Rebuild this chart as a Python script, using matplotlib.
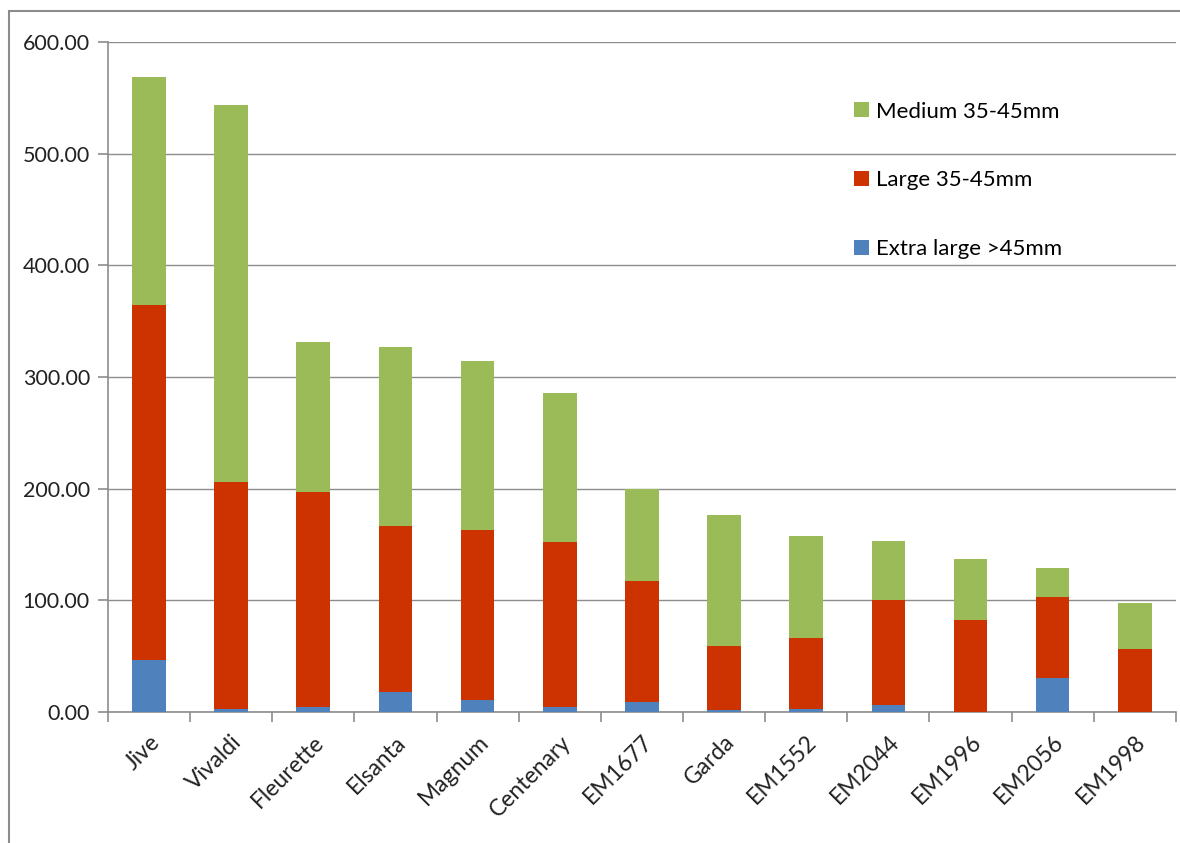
import numpy as np
import matplotlib
matplotlib.use("Agg")
import matplotlib.pyplot as plt
from matplotlib.patches import Rectangle

plt.rcParams['font.family'] = ['Lato', 'DejaVu Sans']

varieties = ['Jive', 'Vivaldi', 'Fleurette', 'Elsanta', 'Magnum', 'Centenary',
             'EM1677', 'Garda', 'EM1552', 'EM2044', 'EM1996', 'EM2056', 'EM1998']
extra_large = [47.0, 2.4, 4.5, 18.0, 10.5, 4.5, 9.3, 1.5, 2.4, 6.0, 0.3, 30.5, 0.3]
large = [317.5, 203.6, 192.5, 148.6, 152.5, 147.5, 107.7, 57.5, 63.6, 94.0, 81.7, 72.5, 55.7]
medium = [204.0, 337.6, 134.0, 160.4, 151.0, 134.0, 83.0, 117.0, 92.0, 53.0, 55.0, 26.0, 42.0]

c_blue = '#4F81BD'
c_red = '#CC3300'
c_green = '#9BBB59'
grey = '#8C8C8C'

fig = plt.figure(figsize=(11.8, 8.43), dpi=100)
# outer chart frame
fig.patches.append(Rectangle((0.008, -0.1), 1.1, 1.087, transform=fig.transFigure,
                             fill=False, edgecolor=grey, linewidth=1.5))
ax = fig.add_axes([0.0915, 0.1554, 0.905, 0.7948])

x = np.arange(len(varieties))
w = 0.41
b1 = ax.bar(x, extra_large, w, color=c_blue, label='Extra large >45mm', zorder=3)
b2 = ax.bar(x, large, w, bottom=extra_large, color=c_red, label='Large 35-45mm', zorder=3)
bottom2 = np.array(extra_large) + np.array(large)
b3 = ax.bar(x, medium, w, bottom=bottom2, color=c_green, label='Medium 35-45mm', zorder=3)

ax.set_xlim(-0.5, len(varieties) - 0.5)
ax.set_ylim(0, 600)
ax.set_yticks(np.arange(0, 601, 100))
ax.set_yticklabels([f'{v:.2f}' for v in np.arange(0, 601, 100)], fontsize=15.5, color='#222222')
ax.yaxis.grid(True, color=grey, linewidth=1.0, zorder=0)
ax.set_axisbelow(True)

ax.set_xticks(x)
ax.set_xticklabels(varieties, rotation=45, ha='right', rotation_mode='anchor', fontsize=16.5,
                   color='#222222')
ax.set_xticks(np.arange(-0.5, len(varieties), 1.0), minor=True)
ax.tick_params(axis='x', which='major', length=0, pad=14)
ax.tick_params(axis='x', which='minor', length=7, color=grey, width=1.2)
ax.tick_params(axis='y', length=7, color=grey, width=1.2, pad=6)

for s in ['top', 'right']:
    ax.spines[s].set_visible(False)
for s in ['left', 'bottom']:
    ax.spines[s].set_color(grey)
    ax.spines[s].set_linewidth(1.2)

ax.legend([b3, b2, b1], ['Medium 35-45mm', 'Large 35-45mm', 'Extra large >45mm'],
          loc='upper left', bbox_to_anchor=(0.68, 0.941), frameon=False, fontsize=16,
          handlelength=0.65, handleheight=0.65, handletextpad=0.35, labelspacing=2.2)

fig.savefig('out.png', dpi=100)
